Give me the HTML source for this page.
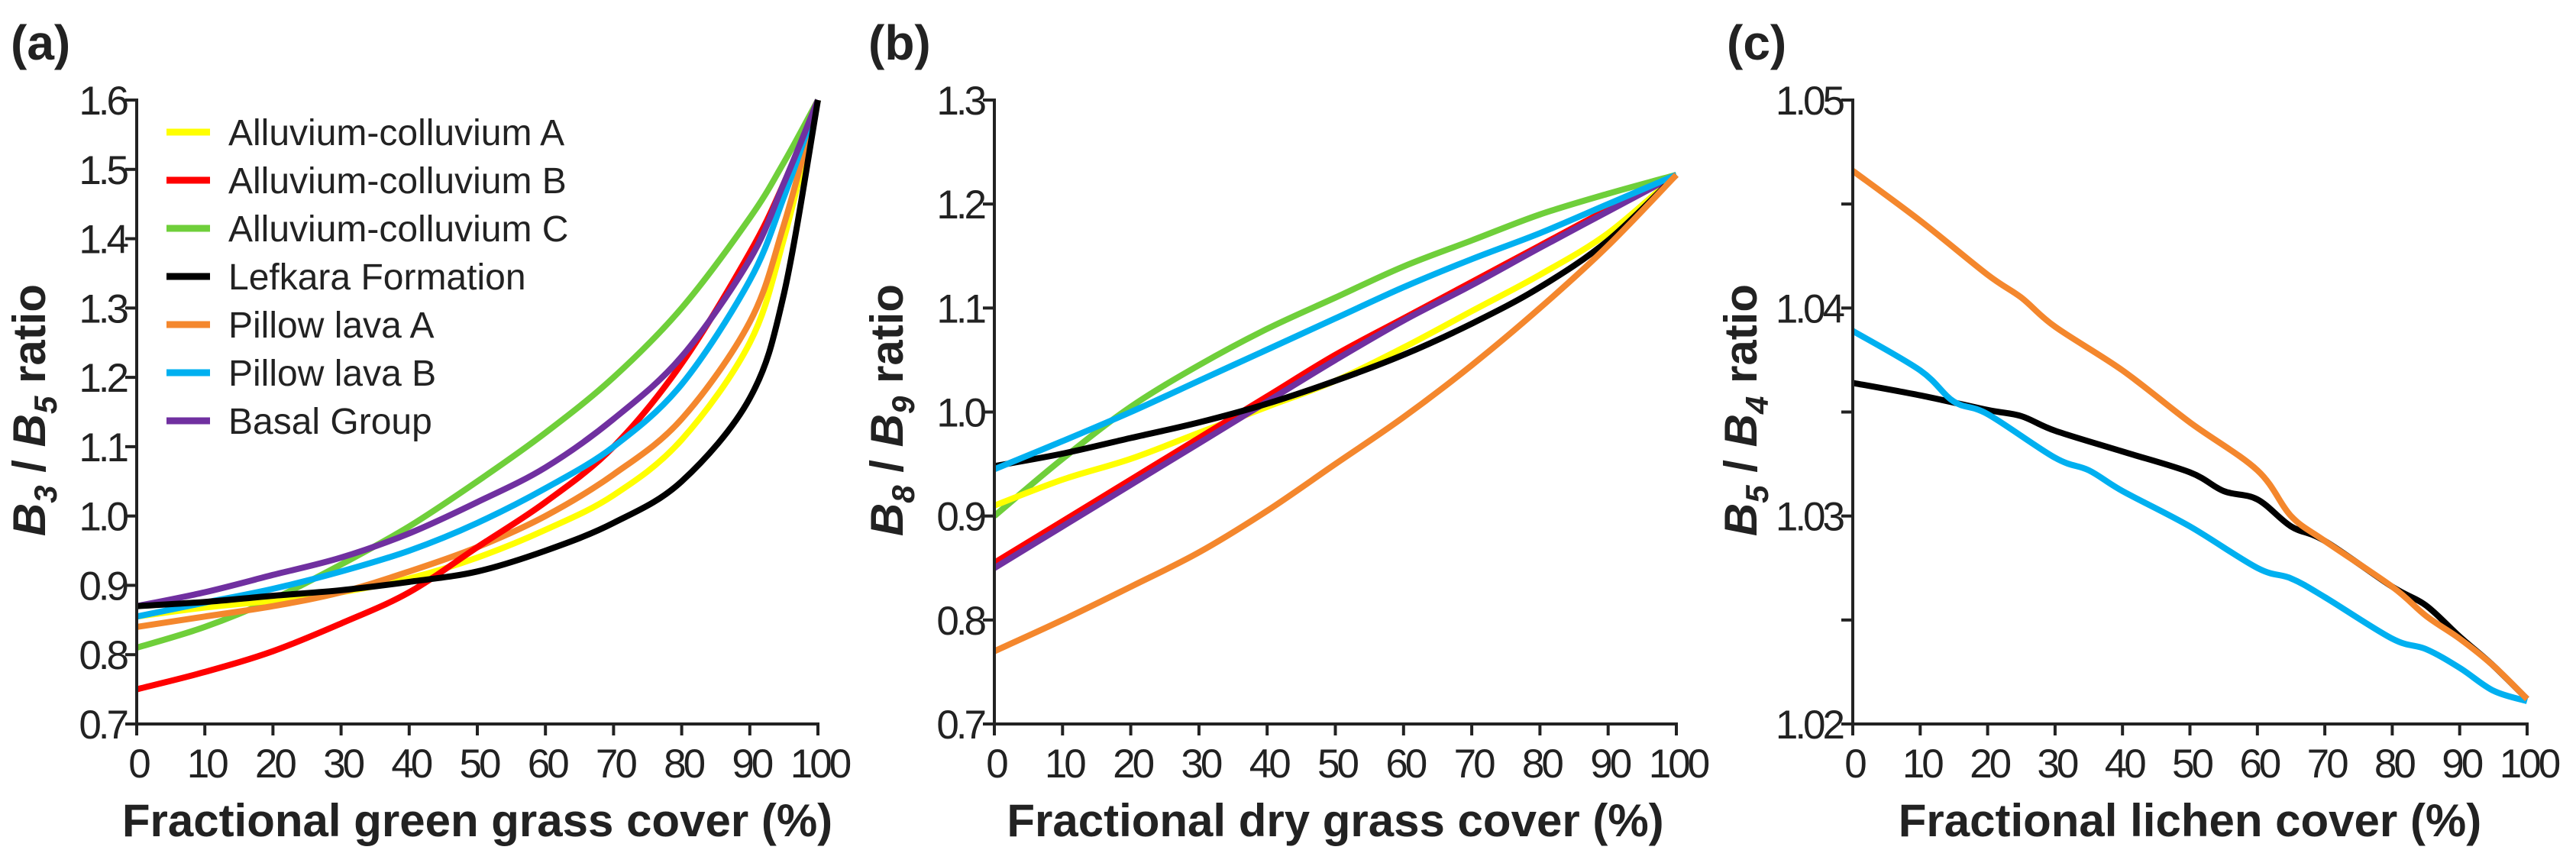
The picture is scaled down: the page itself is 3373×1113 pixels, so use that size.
<!DOCTYPE html>
<html><head><meta charset="utf-8">
<style>
html,body{margin:0;padding:0;background:#fff;}
svg{display:block;font-family:"Liberation Sans",Arial,sans-serif;}
</style></head>
<body>
<svg id="fig" width="3373" height="1113" viewBox="0 0 3373 1113" xmlns="http://www.w3.org/2000/svg"></svg>
<script>
// ---- Panel (a) data ----
const aX = [0,10,20,30,40,50,60,70,80,90,95,100];
const aYellow = [0.855,0.868,0.878,0.89,0.91,0.94,0.98,1.03,1.11,1.25,1.40,1.6];
const aRed    = [0.75,0.775,0.805,0.845,0.89,0.955,1.02,1.10,1.22,1.38,1.48,1.6];
const aGreen  = [0.81,0.84,0.88,0.93,0.985,1.05,1.12,1.20,1.30,1.43,1.51,1.6];
const aBlack  = [0.87,0.876,0.885,0.893,0.905,0.92,0.95,0.99,1.05,1.17,1.32,1.6];
const aOrange = [0.84,0.855,0.87,0.89,0.92,0.955,1.0,1.06,1.14,1.28,1.42,1.6];
const aBlue   = [0.855,0.875,0.895,0.92,0.95,0.99,1.04,1.10,1.19,1.34,1.46,1.6];
const aPurple = [0.87,0.89,0.915,0.94,0.975,1.02,1.07,1.14,1.23,1.37,1.48,1.6];
const aYTicks = [0.7,0.8,0.9,1.0,1.1,1.2,1.3,1.4,1.5,1.6];
const aYLabels = ["0.7","0.8","0.9","1.0","1.1","1.2","1.3","1.4","1.5","1.6"];
// ---- Panel (b) data ----
const bX = [0,10,20,30,40,50,60,70,80,90,100];
const bGreen  = [0.90,0.955,1.005,1.045,1.08,1.11,1.14,1.165,1.19,1.21,1.228];
const bBlue   = [0.945,0.972,1.0,1.03,1.06,1.09,1.12,1.147,1.172,1.20,1.228];
const bRed    = [0.855,0.895,0.935,0.975,1.015,1.055,1.09,1.125,1.16,1.195,1.228];
const bPurple = [0.85,0.89,0.93,0.97,1.01,1.05,1.088,1.122,1.158,1.193,1.228];
const bYellow = [0.91,0.935,0.955,0.98,1.005,1.03,1.062,1.097,1.132,1.172,1.228];
const bBlack  = [0.948,0.96,0.975,0.99,1.008,1.03,1.055,1.085,1.12,1.165,1.228];
const bOrange = [0.77,0.80,0.832,0.865,0.905,0.95,0.995,1.045,1.10,1.16,1.228];
const bYTicks = [0.7,0.8,0.9,1.0,1.1,1.2,1.3];
const bYLabels = ["0.7","0.8","0.9","1.0","1.1","1.2","1.3"];
// ---- Panel (c) data ----
const cXOrange = [0,10,20,25,30,40,50,60,65,70,80,85,90,95,100];
const cOrange  = [1.0466,1.0442,1.0416,1.0405,1.0391,1.037,1.0345,1.0322,1.030,1.0288,1.0266,1.0252,1.0241,1.0228,1.0212];
const cXBlack  = [0,10,20,25,30,40,50,55,60,65,70,80,85,90,95,100];
const cBlack   = [1.0364,1.0358,1.0351,1.0348,1.0341,1.0331,1.0321,1.0312,1.0308,1.0295,1.0288,1.0266,1.0257,1.0242,1.0228,1.0212];
const cXBlue   = [0,10,15,20,30,35,40,50,60,65,70,80,85,90,95,100];
const cBlue    = [1.0389,1.037,1.0355,1.0349,1.0328,1.0322,1.0312,1.0295,1.0275,1.027,1.0261,1.0241,1.0236,1.0227,1.0216,1.0211];
const cYTicks = [1.02,1.025,1.03,1.035,1.04,1.045,1.05];
const cYLabels = ["1.02","","1.03","","1.04","","1.05"];
const xTicks = [0,10,20,30,40,50,60,70,80,90,100];
const xLabels = ["0","10","20","30","40","50","60","70","80","90","100"];

const legendNames = ["Alluvium-colluvium A","Alluvium-colluvium B","Alluvium-colluvium C","Lefkara Formation","Pillow lava A","Pillow lava B","Basal Group"];
const C = {yellow:"#ffff00",red:"#ff0000",green:"#6fcf3a",black:"#000000",orange:"#f4872d",blue:"#00b0f0",purple:"#7030a0"};
const legendColors = [C.yellow,C.red,C.green,C.black,C.orange,C.blue,C.purple];

const NS="http://www.w3.org/2000/svg";
const svg=document.getElementById('fig');
function mk(tag,attrs,parent){const e=document.createElementNS(NS,tag);for(const k in attrs)e.setAttribute(k,attrs[k]);(parent||svg).appendChild(e);return e;}

function smoothPath(pts){
  let d="M"+pts[0][0].toFixed(1)+","+pts[0][1].toFixed(1);
  for(let i=0;i<pts.length-1;i++){
    const p0=pts[Math.max(0,i-1)],p1=pts[i],p2=pts[i+1],p3=pts[Math.min(pts.length-1,i+2)];
    const c1=[p1[0]+(p2[0]-p0[0])/6,p1[1]+(p2[1]-p0[1])/6];
    const c2=[p2[0]-(p3[0]-p1[0])/6,p2[1]-(p3[1]-p1[1])/6];
    d+=" C"+c1[0].toFixed(1)+","+c1[1].toFixed(1)+" "+c2[0].toFixed(1)+","+c2[1].toFixed(1)+" "+p2[0].toFixed(1)+","+p2[1].toFixed(1);
  }
  return d;
}

function panel(cfg){
  const g=mk('g',{});
  
  
  const sx=v=>cfg.x0+(v-0)/100*(cfg.x1-cfg.x0);
  const sy=v=>cfg.yB-(v-cfg.ymin)/(cfg.ymax-cfg.ymin)*(cfg.yB-cfg.yT);
  cfg.series.forEach(s=>{
    const pts=s.xs.map((x,i)=>[sx(x),sy(s.ys[i])]);
    const p=mk('path',{d:smoothPath(pts),fill:'none',stroke:s.color,'stroke-width':8,'stroke-linejoin':'round'},g);
    
    
  });
  const ax=mk('g',{stroke:'#222','stroke-width':4},g);
  
  
  mk('line',{x1:cfg.x0,y1:cfg.yT-2,x2:cfg.x0,y2:cfg.yB+2},ax);
  mk('line',{x1:cfg.x0-2,y1:cfg.yB,x2:cfg.x1+2,y2:cfg.yB},ax);
  cfg.yTicks.forEach((t,i)=>{
    const y=sy(t);
    mk('line',{x1:cfg.x0-15,y1:y,x2:cfg.x0,y2:y},ax);
    if(cfg.yLabels[i]){
      const tx=mk('text',{x:cfg.x0-14,y:y+19,'text-anchor':'end','font-size':53,'letter-spacing':-4,fill:'#222'},g);
      tx.textContent=cfg.yLabels[i];
      
      
    }
  });
  xTicks.forEach((t,i)=>{
    const x=sx(t);
    mk('line',{x1:x,y1:cfg.yB,x2:x,y2:cfg.yB+15},ax);
    const tx=mk('text',{x:x+2,y:1018,'text-anchor':'middle','font-size':53,'letter-spacing':-4,fill:'#222'},g);
    tx.textContent=xLabels[i];
    
    
  });
  const xt=mk('text',{x:(cfg.x0+cfg.x1)/2,y:1095,'text-anchor':'middle','font-size':60,'font-weight':'bold',fill:'#222'},g);
  xt.textContent=cfg.xTitle;
  
  
  const yt=mk('text',{transform:'translate('+(cfg.x0-cfg.titleOff)+',537) rotate(-90)','text-anchor':'middle','font-size':60,'font-weight':'bold',fill:'#222'},g);
  yt.innerHTML='<tspan font-style="italic">B</tspan><tspan font-style="italic" font-size="42" dy="15">'+cfg.b1+'</tspan><tspan dy="-15"> / </tspan><tspan font-style="italic">B</tspan><tspan font-style="italic" font-size="42" dy="15">'+cfg.b2+'</tspan><tspan dy="-15"> ratio</tspan>';
  
  
  const pl=mk('text',{x:cfg.x0-165,y:78,'font-size':64,'font-weight':'bold',fill:'#222'},g);
  pl.textContent='('+cfg.id+')';
  
  
}

panel({id:'a',x0:179,x1:1071,yT:131,yB:948,ymin:0.7,ymax:1.6,yTicks:aYTicks,yLabels:aYLabels,titleOff:120,
  xTitle:'Fractional green grass cover (%)',b1:'3',b2:'5',
  series:[
    {name:'alluvium-colluvium-c',xs:aX,ys:aGreen,color:C.green},
    {name:'alluvium-colluvium-a',xs:aX,ys:aYellow,color:C.yellow},
    {name:'pillow-lava-a',xs:aX,ys:aOrange,color:C.orange},
    {name:'alluvium-colluvium-b',xs:aX,ys:aRed,color:C.red},
    {name:'pillow-lava-b',xs:aX,ys:aBlue,color:C.blue},
    {name:'basal-group',xs:aX,ys:aPurple,color:C.purple},
    {name:'lefkara-formation',xs:aX,ys:aBlack,color:C.black}
  ]});
panel({id:'b',x0:1302,x1:2195,yT:131,yB:948,ymin:0.7,ymax:1.3,yTicks:bYTicks,yLabels:bYLabels,titleOff:120,
  xTitle:'Fractional dry grass cover (%)',b1:'8',b2:'9',
  series:[
    {name:'alluvium-colluvium-c',xs:bX,ys:bGreen,color:C.green},
    {name:'alluvium-colluvium-a',xs:bX,ys:bYellow,color:C.yellow},
    {name:'alluvium-colluvium-b',xs:bX,ys:bRed,color:C.red},
    {name:'basal-group',xs:bX,ys:bPurple,color:C.purple},
    {name:'lefkara-formation',xs:bX,ys:bBlack,color:C.black},
    {name:'pillow-lava-b',xs:bX,ys:bBlue,color:C.blue},
    {name:'pillow-lava-a',xs:bX,ys:bOrange,color:C.orange}
  ]});
panel({id:'c',x0:2426,x1:3309,yT:131,yB:948,ymin:1.02,ymax:1.05,yTicks:cYTicks,yLabels:cYLabels,titleOff:126,
  xTitle:'Fractional lichen cover (%)',b1:'5',b2:'4',
  series:[
    {name:'lefkara-formation',xs:cXBlack,ys:cBlack,color:C.black},
    {name:'pillow-lava-b',xs:cXBlue,ys:cBlue,color:C.blue},
    {name:'pillow-lava-a',xs:cXOrange,ys:cOrange,color:C.orange}
  ]});

const lg=mk('g',{});


legendNames.forEach((n,i)=>{
  const y=173+i*63;
  const e=mk('g',{},lg);
  
  
  mk('line',{x1:218,y1:y,x2:275,y2:y,stroke:legendColors[i],'stroke-width':9},e);
  const t=mk('text',{x:299,y:y+17,'font-size':48,fill:'#222'},e);
  t.textContent=n;
});
</script>
</body></html>
